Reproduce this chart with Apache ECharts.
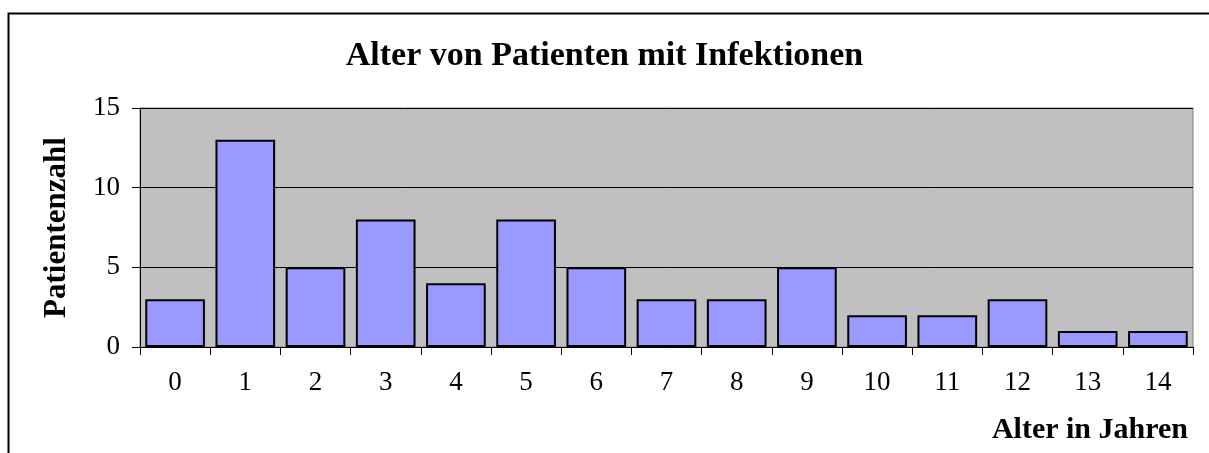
<!DOCTYPE html>
<html>
<head>
<meta charset="utf-8">
<script src="https://cdn.jsdelivr.net/npm/echarts@6/dist/echarts.min.js"></script>
<style>
  html, body { margin: 0; padding: 0; background: #fff; }
</style>
</head>
<body>
<div id="chart" style="width:1209px;height:453px"></div>
<script>
// Daten
var alter = ["0", "1", "2", "3", "4", "5", "6", "7", "8", "9", "10", "11", "12", "13", "14"];
var patienten = [3, 13, 5, 8, 4, 8, 5, 3, 3, 5, 2, 2, 3, 1, 1];
var yTicks = [0, 5, 10, 15];

var font = "'Liberation Serif', 'Times New Roman', serif";
var myChart = echarts.init(document.getElementById("chart"));
myChart.setOption({
  animation: false,
  textStyle: { fontFamily: font, color: "#000" },
  title: {
    text: "Alter von Patienten mit Infektionen",
    left: "center",
    top: 34,
    textStyle: { fontFamily: font, fontSize: 34, fontWeight: "bold", color: "#000" }
  },
  graphic: [{
    type: "rect",
    shape: { x: 8.5, y: 13.5, width: 1220, height: 460 },
    style: { fill: null, stroke: "#000", lineWidth: 2 },
    silent: true
  }],
  grid: {
    left: 140, right: 16, top: 108, bottom: 106,
    show: true,
    backgroundColor: "#C0C0C0",
    borderColor: "#808080",
    borderWidth: 1
  },
  xAxis: {
    type: "category",
    data: alter,
    boundaryGap: true,
    name: "Alter in Jahren",
    nameLocation: "end",
    nameGap: -5,
    nameTextStyle: {
      fontFamily: font, fontSize: 30, fontWeight: "bold", color: "#000",
      align: "right", verticalAlign: "top", padding: [68, 0, 0, 0]
    },
    axisLine: { lineStyle: { color: "#000", width: 1 } },
    axisTick: { show: true, length: 8, alignWithLabel: false, lineStyle: { color: "#000" } },
    axisLabel: { fontFamily: font, fontSize: 27, color: "#000", margin: 22, interval: 0 }
  },
  yAxis: {
    type: "value",
    min: yTicks[0],
    max: yTicks[yTicks.length - 1],
    interval: 5,
    name: "Patientenzahl",
    nameLocation: "middle",
    nameRotate: 90,
    nameGap: 68,
    nameTextStyle: { fontFamily: font, fontSize: 31, fontWeight: "bold", color: "#000" },
    axisLine: { show: true, lineStyle: { color: "#000", width: 1 } },
    axisTick: { show: true, length: 8, lineStyle: { color: "#000" } },
    axisLabel: { fontFamily: font, fontSize: 27, color: "#000", margin: 20 },
    splitLine: { show: true, lineStyle: { color: "#000", width: 1 } }
  },
  series: [{
    type: "bar",
    data: patienten,
    barCategoryGap: "15%",
    itemStyle: { color: "#9999FF", borderColor: "#000", borderWidth: 2 }
  }]
});
</script>
</body>
</html>
